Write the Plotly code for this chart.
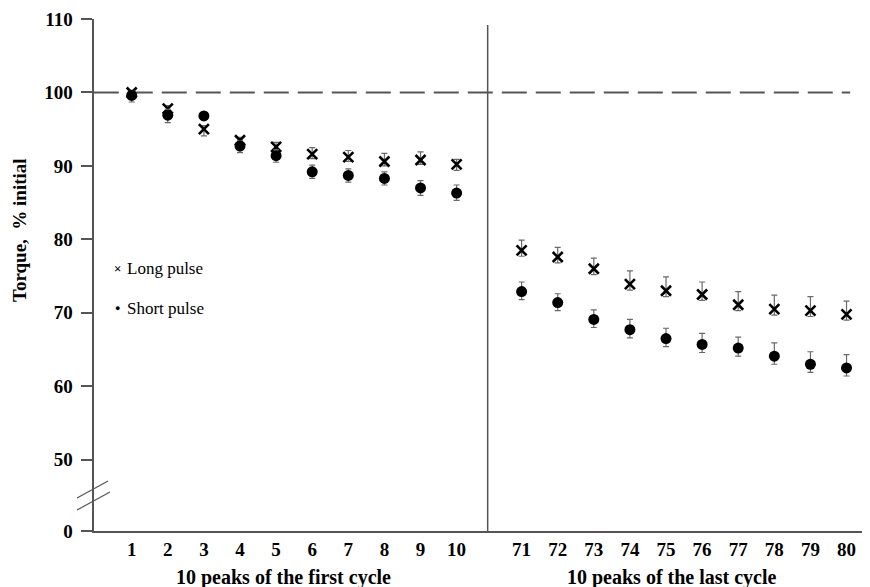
import plotly.graph_objects as go

# ---- data ----
first_cycle_peaks = [1, 2, 3, 4, 5, 6, 7, 8, 9, 10]
last_cycle_peaks = [71, 72, 73, 74, 75, 76, 77, 78, 79, 80]

long_first = [100.0, 97.8, 95.0, 93.5, 92.6, 91.6, 91.2, 90.6, 90.8, 90.2]
long_first_up = [0.3, 0.4, 0.5, 0.4, 0.6, 0.9, 0.9, 1.1, 1.1, 0.7]
long_first_dn = [0.3, 0.5, 0.9, 0.5, 0.6, 0.6, 0.6, 0.6, 0.6, 0.8]

short_first = [99.6, 96.9, 96.8, 92.7, 91.4, 89.2, 88.7, 88.3, 87.0, 86.3]
short_first_up = [0.6, 0.8, 0.5, 0.7, 0.8, 0.9, 0.9, 0.9, 1.0, 1.1]
short_first_dn = [0.9, 1.0, 0.5, 0.9, 0.9, 0.9, 0.9, 0.9, 1.0, 1.0]

long_last = [78.5, 77.6, 76.0, 73.9, 73.0, 72.5, 71.1, 70.5, 70.3, 69.8]
long_last_up = [1.4, 1.3, 1.45, 1.8, 1.9, 1.7, 1.8, 1.9, 1.9, 1.8]
long_last_dn = [0.8, 0.8, 0.8, 0.8, 0.8, 0.8, 0.8, 0.8, 0.8, 0.8]

short_last = [72.9, 71.4, 69.1, 67.7, 66.5, 65.7, 65.2, 64.1, 63.0, 62.5]
short_last_up = [1.3, 1.2, 1.3, 1.4, 1.4, 1.5, 1.5, 1.8, 1.7, 1.8]
short_last_dn = [1.1, 1.1, 1.1, 1.1, 1.1, 1.1, 1.1, 1.1, 1.1, 1.1]

y_tick_vals = [50, 60, 70, 80, 90, 100, 110]
y_tick_text = ["50", "60", "70", "80", "90", "100", "110"]
reference_level = 100

# ---- layout helpers ----
BREAK_POS = 40.3          # axis position that carries the "0" label (broken axis)
RIGHT_OFFSET = 11.8       # axis position of the first peak of the last cycle
DIVIDER_X = 10.86
FONT = "Liberation Serif, Times New Roman, serif"
AXIS_COL = "#555555"
ERR_COL = "#6a6a6a"

# page body adds an 8px margin; plot area spans image px x 94..870, y 19..531
PL, PT, PW, PH = 94, 19, 776, 512


def px_x(px):
    return (px - PL) / PW


def px_y(py):
    return (PT + PH - py) / PH


x_first = [i + 1 for i in range(len(first_cycle_peaks))]
x_last = [RIGHT_OFFSET + i for i in range(len(last_cycle_peaks))]

fig = go.Figure()


def add_series(x, y, up, dn, symbol, size, line_w):
    fig.add_trace(go.Scatter(
        x=x, y=y, mode="markers", showlegend=False,
        marker=dict(symbol=symbol, size=size, color="black",
                    line=dict(color="black", width=line_w)),
        error_y=dict(type="data", symmetric=False, array=up, arrayminus=dn,
                     color=ERR_COL, thickness=1.2, width=3),
        cliponaxis=False,
    ))


add_series(x_first, long_first, long_first_up, long_first_dn, "x-thin", 10, 2.6)
add_series(x_first, short_first, short_first_up, short_first_dn, "circle", 11, 0)
add_series(x_last, long_last, long_last_up, long_last_dn, "x-thin", 10, 2.6)
add_series(x_last, short_last, short_last_up, short_last_dn, "circle", 11, 0)

shapes = [
    # dashed 100% reference line
    dict(type="line", xref="x", yref="y", x0=-0.05, x1=20.9,
         y0=reference_level, y1=reference_level,
         line=dict(color=AXIS_COL, width=2, dash="25px,9px"), layer="below"),
    # divider between cycles
    dict(type="line", xref="x", yref="y", x0=DIVIDER_X, x1=DIVIDER_X,
         y0=BREAK_POS, y1=109.2, line=dict(color=AXIS_COL, width=1.5)),
    # axis break marks
    dict(type="line", xref="paper", yref="paper", x0=px_x(77), y0=px_y(498),
         x1=px_x(108), y1=px_y(481), line=dict(color=AXIS_COL, width=1.2)),
    dict(type="line", xref="paper", yref="paper", x0=px_x(77), y0=px_y(510),
         x1=px_x(110), y1=px_y(492), line=dict(color=AXIS_COL, width=1.2)),
]


def ann(text, px, py, size, xanchor="center", angle=0):
    return dict(text=text, xref="paper", yref="paper", x=px_x(px), y=px_y(py),
                xanchor=xanchor, yanchor="middle", textangle=angle,
                showarrow=False, font=dict(family=FONT, size=size, color="black"))


annotations = [
    ann("<b>Torque,  % initial</b>", 19, 230, 19, angle=-90),
    ann("<b>10 peaks of the first cycle</b>", 283, 577, 20),
    ann("<b>10 peaks of the last cycle</b>", 672, 577, 20),
    ann("<b>×</b>", 117, 268, 13),
    ann("Long pulse", 125, 268, 17, xanchor="left"),
    ann("●", 117, 308, 9),
    ann("Short pulse", 125, 308, 17, xanchor="left"),
]

fig.update_layout(
    width=870 - 8, height=587 - 8,
    margin=dict(l=PL - 8, r=870 - PL - PW, t=PT - 8, b=587 - PT - PH),
    paper_bgcolor="white", plot_bgcolor="white",
    font=dict(family=FONT, size=19, color="black"),
    shapes=shapes, annotations=annotations,
    xaxis=dict(
        range=[-0.044, 21.45], showgrid=False, zeroline=False,
        showline=True, linecolor=AXIS_COL, linewidth=1.5,
        tickvals=x_first + x_last,
        ticktext=["<b>%d</b>" % v for v in first_cycle_peaks + last_cycle_peaks],
        ticks="", ticklen=0,
        tickfont=dict(family=FONT, size=19, color="black"),
    ),
    yaxis=dict(
        range=[BREAK_POS, 110], showgrid=False, zeroline=False,
        showline=True, linecolor=AXIS_COL, linewidth=1.5,
        tickvals=[BREAK_POS] + y_tick_vals,
        ticktext=["<b>0</b>&nbsp;"] + ["<b>%s</b>&nbsp;" % t for t in y_tick_text],
        ticks="outside", ticklen=11, tickcolor=AXIS_COL, tickwidth=1.5,
        tickfont=dict(family=FONT, size=19, color="black"),
    ),
)

fig.write_html("out.html")
